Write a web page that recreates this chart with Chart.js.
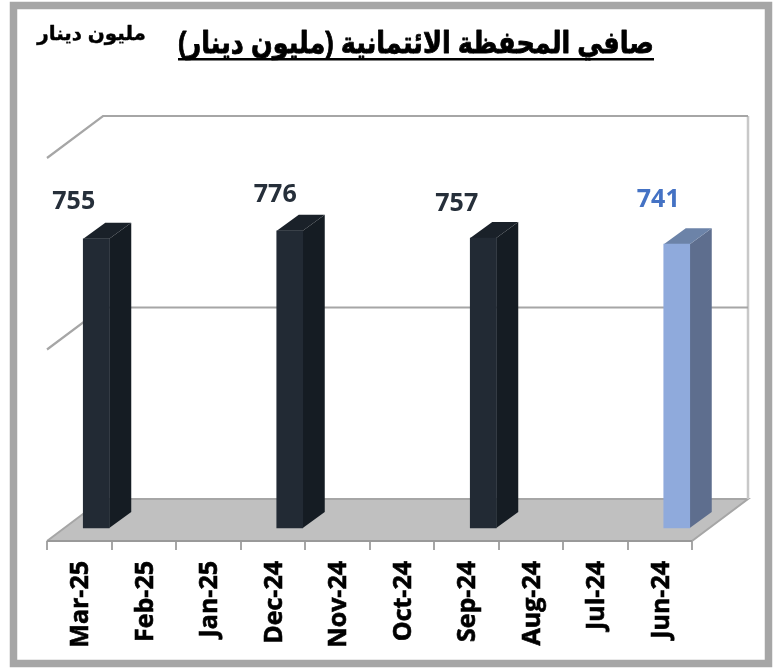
<!DOCTYPE html>
<html lang="ar">
<head>
<meta charset="utf-8">
<style>html,body{margin:0;padding:0;background:#fff}#w{position:relative;width:780px;height:669px}</style>
<script src="https://cdn.jsdelivr.net/npm/chart.js@4"></script>
</head>
<body>
<div id="w"><canvas id="c" width="780" height="669"></canvas></div>
<script>
const categories = ["Mar-25","Feb-25","Jan-25","Dec-24","Nov-24","Oct-24","Sep-24","Aug-24","Jul-24","Jun-24"];
const portfolioValues = [755,null,null,776,null,null,757,null,null,741];
const frontColors = ["#222a34","#222a34","#222a34","#222a34","#222a34","#222a34","#222a34","#222a34","#222a34","#8faadc"];
const sideColors  = ["#151c23","#151c23","#151c23","#151c23","#151c23","#151c23","#151c23","#151c23","#151c23","#5e6e8e"];
const topColors   = ["#1a2129","#1a2129","#1a2129","#1a2129","#1a2129","#1a2129","#1a2129","#1a2129","#1a2129","#6c83a8"];
const labelColors = ["#262f3a","#262f3a","#262f3a","#262f3a","#262f3a","#262f3a","#262f3a","#262f3a","#262f3a","#4472c4"];
const titleText = "صافي المحفظة الائتمانية (مليون دينار)";
const unitText = "مليون دينار";

// chart geometry (pseudo-3D projection)
const DEPTH = {x:56, y:-42};
const BAR_SHIFT = {x:17, y:-13};
const BAR_DEPTH = {x:22, y:-16};
const LABEL_NUDGE = {0:[-22.5,-37],3:[-14.5,-36],6:[-26.5,-34],9:[-18.5,-44]};

function poly(ctx, pts, fill){
  ctx.beginPath();
  pts.forEach((p,i)=> i?ctx.lineTo(p[0],p[1]):ctx.moveTo(p[0],p[1]));
  ctx.closePath();
  ctx.fillStyle=fill; ctx.fill();
}
function seg(ctx, pts, color, w){
  ctx.beginPath();
  pts.forEach((p,i)=> i?ctx.lineTo(p[0],p[1]):ctx.moveTo(p[0],p[1]));
  ctx.strokeStyle=color; ctx.lineWidth=w; ctx.stroke();
}
const scene = {
  id:'scene',
  beforeDraw(chart){
    const ctx=chart.ctx;
    ctx.save();
    ctx.strokeStyle='#a6a6a6'; ctx.lineWidth=7.5; ctx.lineJoin='miter';
    ctx.beginPath(); ctx.rect(13.5,5.5,755,658); ctx.stroke();
    ctx.restore();
  },
  beforeDatasetsDraw(chart){
    const ctx=chart.ctx, a=chart.chartArea, ys=chart.scales.y;
    const base=ys.getPixelForValue(0);
    ctx.save();
    // floor
    poly(ctx,[[a.left,base],[a.right,base],[a.right+DEPTH.x,base+DEPTH.y],[a.left+DEPTH.x,base+DEPTH.y]],'#c0c0c0');
    seg(ctx,[[a.left,base],[a.left+DEPTH.x,base+DEPTH.y],[a.right+DEPTH.x,base+DEPTH.y],[a.right,base]],'#a6a6a6',2);
    seg(ctx,[[a.left,base],[a.right,base]],'#999999',2);
    // back wall right edge
    const top=ys.getPixelForValue(ys.max);
    seg(ctx,[[a.right+DEPTH.x,top+DEPTH.y],[a.right+DEPTH.x,base+DEPTH.y]],'#c8c8c8',2.5);
    // gridlines
    ys.ticks.forEach(t=>{
      if(t.value===0) return;
      const y=ys.getPixelForValue(t.value);
      seg(ctx,[[a.left,y],[a.left+DEPTH.x,y+DEPTH.y],[a.right+DEPTH.x,y+DEPTH.y]],'#a6a6a6',2.2);
    });
    ctx.restore();
    // 3D faces, then the library's bars, all shifted into the middle of the depth
    ctx.save();
    ctx.translate(BAR_SHIFT.x,BAR_SHIFT.y);
    chart.getDatasetMeta(0).data.forEach((el,i)=>{
      if(portfolioValues[i]==null) return;
      const p=el.getProps(['x','y','base','width'],true);
      const l=p.x-p.width/2, r=p.x+p.width/2;
      poly(ctx,[[r,p.y],[r+BAR_DEPTH.x,p.y+BAR_DEPTH.y],[r+BAR_DEPTH.x,p.base+BAR_DEPTH.y],[r,p.base]],sideColors[i]);
      poly(ctx,[[l,p.y],[l+BAR_DEPTH.x,p.y+BAR_DEPTH.y],[r+BAR_DEPTH.x,p.y+BAR_DEPTH.y],[r,p.y]],topColors[i]);
    });
  },
  afterDatasetsDraw(chart){
    const ctx=chart.ctx;
    ctx.restore();
    // value labels
    ctx.save();
    ctx.font='bold 25px "Open Sans"';
    ctx.textAlign='center'; ctx.textBaseline='middle';
    chart.getDatasetMeta(0).data.forEach((el,i)=>{
      if(portfolioValues[i]==null) return;
      const n=LABEL_NUDGE[i];
      ctx.fillStyle=labelColors[i];
      ctx.fillText(String(portfolioValues[i]), el.x+BAR_SHIFT.x+n[0], el.y+BAR_SHIFT.y+n[1]);
    });
    ctx.restore();
    // titles
    ctx.save();
    ctx.direction='rtl'; ctx.textAlign='right'; ctx.textBaseline='alphabetic'; ctx.fillStyle='#000'; ctx.strokeStyle='#000';
    ctx.lineJoin='round';
    ctx.font='bold 25.5px "Liberation Sans","DejaVu Sans"';
    ctx.lineWidth=0.7;
    const w=ctx.measureText(titleText).width;
    ctx.fillRect(654-w,58,w,2.5);
    ctx.save();
    ctx.translate(654,53); ctx.scale(1,1.18);
    ctx.fillText(titleText,0,0); ctx.strokeText(titleText,0,0);
    ctx.restore();
    ctx.font='bold 20px "Liberation Sans","DejaVu Sans"';
    ctx.lineWidth=0.4;
    ctx.fillText(unitText,146,40); ctx.strokeText(unitText,146,40);
    ctx.restore();
  }
};
new Chart(document.getElementById('c'),{
  type:'bar',
  data:{labels:categories,datasets:[{data:portfolioValues,backgroundColor:frontColors,borderWidth:0,barThickness:26,clip:false}]},
  plugins:[scene],
  options:{
    responsive:false,animation:false,
    layout:{padding:{left:47,right:88,top:158,bottom:0}},
    plugins:{legend:{display:false},tooltip:{enabled:false},title:{display:false}},
    scales:{
      y:{display:false,min:0,max:1000,ticks:{stepSize:500}},
      x:{
        afterFit(s){s.height=128;},
        border:{display:false},
        grid:{drawOnChartArea:false,drawTicks:true,tickLength:9,color:'#a6a6a6',lineWidth:2},
        ticks:{minRotation:90,maxRotation:90,autoSkip:false,color:'#000',padding:11,labelOffset:2,textStrokeColor:'#000',textStrokeWidth:0.6,font:{family:'"Open Sans"',weight:'bold',size:25}}
      }
    }
  }
});
</script>
</body>
</html>
